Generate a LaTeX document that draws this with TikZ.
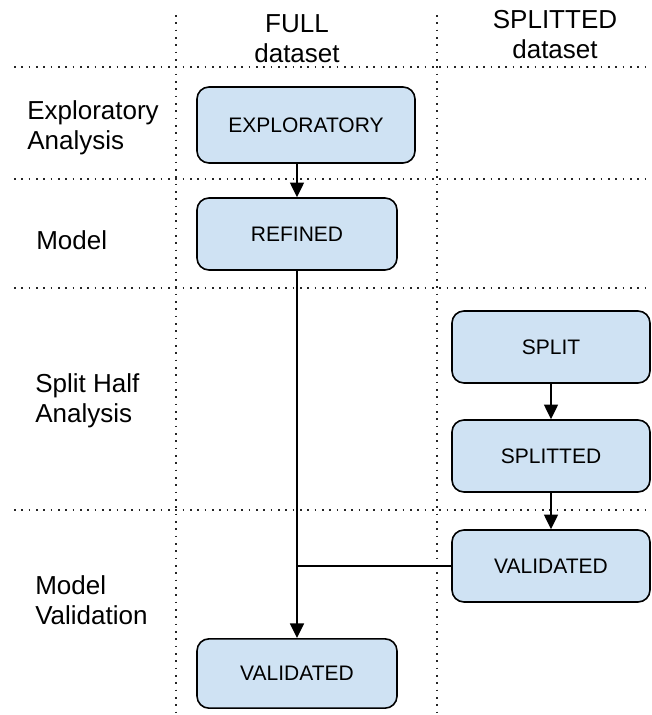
\documentclass[tikz,border=0pt]{standalone}
\usepackage{fontspec}
\setmainfont{Liberation Sans}
\usetikzlibrary{arrows.meta}
\definecolor{stagefill}{RGB}{207,226,243}
\tikzset{
  stage/.style={draw, line width=1.2pt, rounded corners=9pt, fill=stagefill,
    minimum width=150pt, minimum height=54pt, inner sep=0pt,
    font=\fontsize{15.75}{18}\selectfont},
  lane/.style={line width=1.2pt, dash pattern=on 1.2pt off 4.3pt, black!85},
  flow/.style={line width=1.2pt, -{Triangle[length=11pt,width=10.5pt]}},
  rowlabel/.style={anchor=west, align=left, inner sep=0pt,
    font=\fontsize{19.5}{22.5}\selectfont},
  colhead/.style={align=center, inner sep=0pt,
    font=\fontsize{19.5}{22.5}\selectfont}
}
\begin{document}
\begin{tikzpicture}[x=0.75pt,y=-0.75pt]
   \useasboundingbox (0,0) rectangle (651,715);
   % lanes
   \draw[lane] (176,15) -- (176,715);
   \draw[lane] (437,15) -- (437,715);
   \draw[lane] (14,67) -- (651,67);
   \draw[lane] (14,179) -- (651,179);
   \draw[lane] (14,288) -- (651,288);
   \draw[lane] (14,510) -- (651,510);
   % headings
   \node[colhead] (hfull) at (297,38.5) {FULL\\dataset};
   \node[colhead] (hsplit) at (555,34.5) {SPLITTED\\dataset};
   \node[rowlabel] (lexpl) at (27,128) {Exploratory\\Analysis};
   \node[rowlabel] (lmodel) at (36,240.5) {Model};
   \node[rowlabel] (lsplit) at (35,401) {Split Half\\Analysis};
   \node[rowlabel] (lvalid) at (35,600.5) {Model\\Validation};
   % stages
   \node[stage, minimum width=163.5pt, minimum height=57pt] (expl) at (306,125) {EXPLORATORY};
   \node[stage] (refined) at (297,234) {REFINED};
   \node[stage, minimum width=148.5pt] (split) at (551,347) {SPLIT};
   \node[stage, minimum width=148.5pt] (splitted) at (551,456) {SPLITTED};
   \node[stage, minimum width=148.5pt] (valsplit) at (551,566) {VALIDATED};
   \node[stage, minimum height=52pt] (valfull) at (297,673.5) {VALIDATED};
   % flow
   \draw[flow] (refined.north |- expl.south) -- (refined.north);
   \draw[flow] (refined.south) -- (valfull.north);
   \draw[flow] (split.south) -- (splitted.north);
   \draw[flow] (splitted.south) -- (valsplit.north);
   \draw[line width=1.2pt] (valsplit.west) -- (valsplit.west -| refined.south);
\end{tikzpicture}
\end{document}
